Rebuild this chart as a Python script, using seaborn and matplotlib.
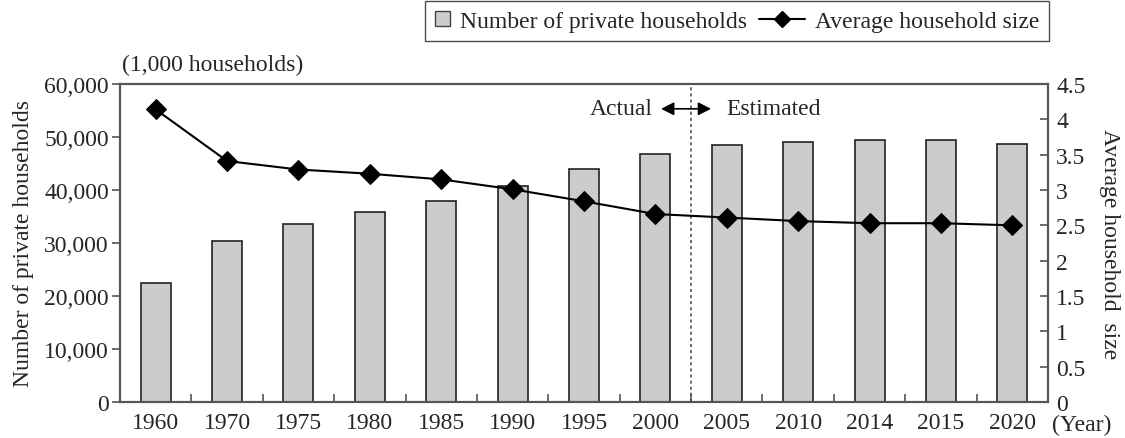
import numpy as np
import pandas as pd
import matplotlib
matplotlib.use("Agg")
import matplotlib.pyplot as plt
from matplotlib.lines import Line2D
from matplotlib.patches import Patch, Rectangle
from matplotlib.legend_handler import HandlerPatch
import seaborn as sns

years = ["1960", "1970", "1975", "1980", "1985", "1990", "1995",
         "2000", "2005", "2010", "2014", "2015", "2020"]
households = [22539, 30297, 33596, 35824, 37980, 40670, 43900,
              46782, 48413, 49040, 49413, 49527, 48730]
avg_size = [4.14, 3.41, 3.29, 3.23, 3.15, 3.01, 2.84,
            2.66, 2.61, 2.56, 2.53, 2.53, 2.50]

sns.set_theme(style="white")
plt.rcParams["font.family"] = ["Liberation Serif", "DejaVu Serif"]
plt.rcParams["font.size"] = 17

df = pd.DataFrame({"year": years, "households": households, "size": avg_size})

fig = plt.figure(figsize=(11.25, 4.39), dpi=100)
ax = fig.add_axes([120 / 1125, 1 - 403 / 439, (1048 - 120) / 1125, (403 - 85) / 439])

sns.barplot(data=df, x="year", y="households", ax=ax, color="#cccccc",
            saturation=1, width=0.42, edgecolor="#222222", linewidth=1.2)
ax.set_ylim(0, 60000)
ax.set_xlim(-0.5, len(years) - 0.5)
ax.set_yticks(np.arange(0, 60001, 10000))
ax.set_yticklabels([f"{v:,}" for v in range(0, 60001, 10000)])
ax.set_xlabel("")
ax.set_ylabel("Number of private households", fontsize=17, labelpad=7)

ax2 = ax.twinx()
pos = np.arange(len(years))
sns.lineplot(x=pos, y=df["size"], ax=ax2, color="black", linewidth=1.5,
             marker="D", markersize=10, markeredgecolor="black")
ax2.set_ylim(0, 4.5)
ax2.set_yticks(np.arange(0, 4.51, 0.5))
ax2.set_yticklabels(["0", "0.5", "1", "1.5", "2", "2.5", "3", "3.5", "4", "4.5"])
ax2.set_ylabel("Average household  size", rotation=270, fontsize=17, labelpad=25)
ax2.set_xlim(-0.5, len(years) - 0.5)

# spines and ticks
for a in (ax, ax2):
    for s in a.spines.values():
        s.set_color("#555555")
        s.set_linewidth(1.5)
ax.tick_params(axis="y", direction="out", length=6, width=1.2, color="#555555",
               labelsize=17, pad=2, left=True)
ax2.tick_params(axis="y", direction="in", length=6, width=1.2, color="#555555",
                labelsize=17, pad=6, right=True)
ax.set_xticks(pos)
ax.set_xticklabels(years)
ax.tick_params(axis="x", length=0, labelsize=17, pad=7)
ax.set_xticks(np.arange(0.5, len(years) - 0.5, 1), minor=True)
ax.tick_params(axis="x", which="minor", direction="in", length=6, width=1.2,
               color="#555555", bottom=True)

# boundary between actual and estimated values
split = 7.5
ty = 0.922
xt = ax.get_xaxis_transform()
ax.axvline(split, color="#444444", linestyle=(0, (2, 2)), linewidth=1.1)
ax.text(split - 0.53, ty, "Actual", transform=xt, ha="right", va="center", fontsize=17)
ax.text(split + 0.49, ty, "Estimated", transform=xt, ha="left", va="center", fontsize=17)
for dx in (-0.42, 0.28):
    ax.annotate("", xy=(split + dx, ty), xytext=(split, ty), xycoords=xt,
                arrowprops=dict(arrowstyle="-|>,head_length=0.55,head_width=0.28",
                                color="black", lw=1.2, mutation_scale=14,
                                shrinkA=0, shrinkB=0))

fig.text(122 / 1125, 1 - 65 / 439, "(1,000 households)", ha="left", va="center",
         fontsize=17)
fig.text(1052 / 1125, 1 - 425 / 439, "(Year)", ha="left", va="center", fontsize=17)


def small_square(legend, orig_handle, xdescent, ydescent, width, height, fontsize):
    s = width
    return Rectangle((-xdescent, -ydescent + (height - s) / 2), s, s)


class LongLineHandler:
    """Legend entry: a line reaching left past its handle box, diamond in the middle."""

    def __init__(self, extra):
        self.extra = extra

    def legend_artist(self, legend, orig_handle, fontsize, handlebox):
        x0 = -handlebox.xdescent - self.extra
        x1 = -handlebox.xdescent + handlebox.width
        y = -handlebox.ydescent + handlebox.height / 2
        line = Line2D([x0, x1], [y, y], color=orig_handle.get_color(),
                      linewidth=orig_handle.get_linewidth())
        mark = Line2D([(x0 + x1) / 2], [y], linestyle="none",
                      marker=orig_handle.get_marker(),
                      markersize=orig_handle.get_markersize(),
                      color=orig_handle.get_color())
        handlebox.add_artist(line)
        handlebox.add_artist(mark)
        return line


fs = 17
line_handle = Line2D([0], [0], color="black", linewidth=1.5, marker="D", markersize=8)
handles = [Patch(facecolor="#cccccc", edgecolor="#444444", linewidth=1), line_handle]
extra_pt = 21.6
leg = fig.legend(handles, ["Number of private households", "Average household size"],
                 loc="upper right", bbox_to_anchor=(1049 / 1125, 1 - 2 / 439),
                 ncol=2, frameon=True, fancybox=False, fontsize=fs,
                 handlelength=0.64, handletextpad=0.45,
                 columnspacing=(8.6 + extra_pt) / fs,
                 borderpad=0.4, handleheight=0.7, borderaxespad=0,
                 handler_map={Patch: HandlerPatch(patch_func=small_square),
                              line_handle: LongLineHandler(extra_pt)})
leg.get_frame().set_edgecolor("#222222")
leg.get_frame().set_linewidth(1.0)

fig.savefig("out.png", dpi=100)
